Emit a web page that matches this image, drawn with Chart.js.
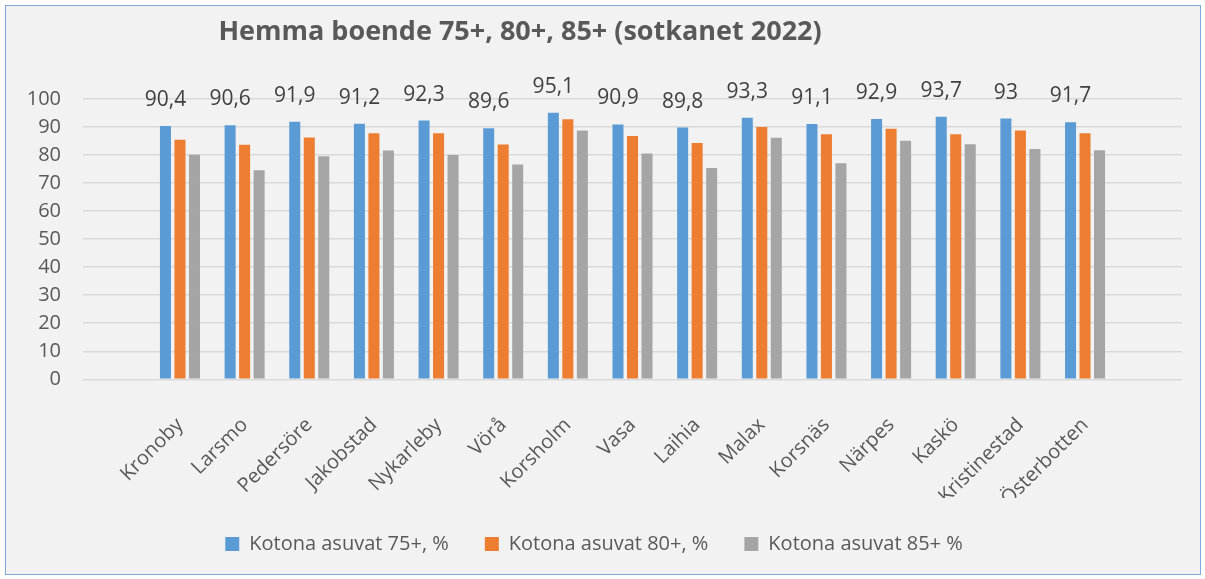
<!DOCTYPE html>
<html>
<head>
<meta charset="utf-8">
<script src="https://cdn.jsdelivr.net/npm/chart.js@4/dist/chart.umd.min.js"></script>
<style>
  html, body { margin: 0; padding: 0; background: #ffffff; }
  #wrap { position: absolute; left: 5px; top: 5px; width: 1194px; height: 568px;
          border: 1px solid #7fa9dc; background: #f2f2f2; }
  canvas { display: block; }
</style>
</head>
<body>
<div id="wrap"><canvas id="c" width="1194" height="568"></canvas></div>
<script>
const chartTitle = 'Hemma boende 75+, 80+, 85+ (sotkanet 2022)';
const categories = ['Kronoby','Larsmo','Pedersöre','Jakobstad','Nykarleby','Vörå','Korsholm','Vasa','Laihia','Malax','Korsnäs','Närpes','Kaskö','Kristinestad','Österbotten'];
const seriesNames = ['Kotona asuvat 75+, %','Kotona asuvat 80+, %','Kotona asuvat 85+ %'];
const home75 = [90.4, 90.6, 91.9, 91.2, 92.3, 89.6, 95.1, 90.9, 89.8, 93.3, 91.1, 92.9, 93.7, 93, 91.7];
const home80 = [85.5, 83.7, 86.3, 87.8, 87.8, 83.8, 92.8, 86.8, 84.3, 90.0, 87.4, 89.4, 87.4, 88.8, 87.8];
const home85 = [80.1, 74.6, 79.6, 81.6, 80.0, 76.6, 88.8, 80.6, 75.4, 86.2, 77.1, 85.1, 83.9, 82.2, 81.7];
const yTicks = [0, 10, 20, 30, 40, 50, 60, 70, 80, 90, 100];

const colors = ['#5b9bd5', '#ed7d31', '#a5a5a5'];
const FONT = "'Open Sans', 'DejaVu Sans', sans-serif";

// Excel-style axis: one empty slot on each side of the categories
const pad = arr => [null, ...arr, null];
const labels = ['', ...categories, ''];

const fmt = v => String(v).replace('.', ',');

const titlePlugin = {
  id: 'customTitle',
  afterDraw(chart) {
    const ctx = chart.ctx;
    ctx.save();
    ctx.font = "bold 27px " + FONT;
    ctx.fillStyle = '#595959';
    ctx.textAlign = 'center';
    ctx.textBaseline = 'middle';
    ctx.fillText(chartTitle, chart.width * 0.4305, 26);
    ctx.restore();
  }
};

const valueLabels = {
  id: 'valueLabels',
  afterDatasetsDraw(chart) {
    const ctx = chart.ctx;
    const meta = chart.getDatasetMeta(0);
    const data = chart.data.datasets[0].data;
    ctx.save();
    ctx.font = "21px " + FONT;
    ctx.fillStyle = '#404040';
    ctx.textAlign = 'center';
    ctx.textBaseline = 'middle';
    meta.data.forEach((el, i) => {
      if (data[i] == null) return;
      ctx.fillText(fmt(data[i]), el.x, el.y - 26);
    });
    ctx.restore();
  }
};

new Chart(document.getElementById('c'), {
  type: 'bar',
  data: {
    labels: labels,
    datasets: [
      { label: seriesNames[0], data: pad(home75), backgroundColor: colors[0] },
      { label: seriesNames[1], data: pad(home80), backgroundColor: colors[1] },
      { label: seriesNames[2], data: pad(home85), backgroundColor: colors[2] }
    ]
  },
  options: {
    responsive: false,
    animation: false,
    layout: { padding: { top: 93, right: 18, left: 0, bottom: 10 } },
    datasets: { bar: { categoryPercentage: 0.673, barPercentage: 0.76 } },
    plugins: {
      legend: {
        position: 'bottom',
        labels: {
          boxWidth: 14, boxHeight: 14, padding: 36,
          color: '#595959',
          font: { family: FONT, size: 20 }
        }
      },
      tooltip: { enabled: false },
      title: { display: false }
    },
    scales: {
      x: {
        grid: { display: false },
        border: { display: false },
        ticks: {
          autoSkip: false, maxRotation: 45, minRotation: 45, padding: 26,
          color: '#595959', font: { family: FONT, size: 20 }
        },
        afterFit(s) { s.height = 118.7; }
      },
      y: {
        min: 0, max: 100,
        afterBuildTicks(s) { s.ticks = yTicks.map(v => ({ value: v })); },
        grid: { color: '#d9d9d9', lineWidth: 1.5, drawTicks: false },
        border: { display: false },
        ticks: { padding: 22, color: '#595959', font: { family: FONT, size: 20 } },
        afterFit(s) { s.width = 77; }
      }
    }
  },
  plugins: [titlePlugin, valueLabels]
});
</script>
</body>
</html>
